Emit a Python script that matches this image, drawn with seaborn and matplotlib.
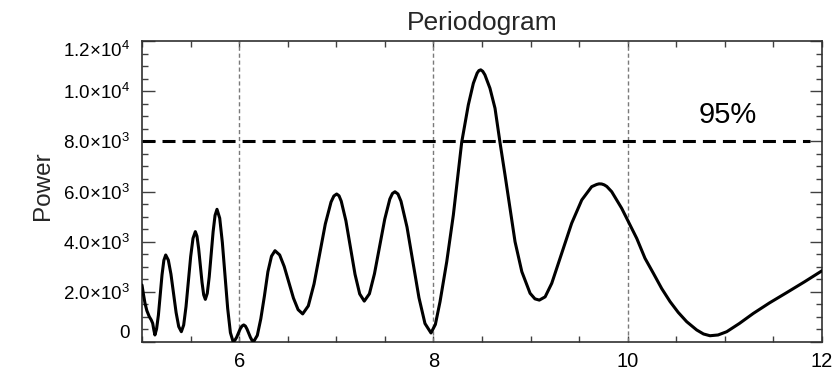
import matplotlib
matplotlib.use("Agg")
import matplotlib.pyplot as plt
import seaborn as sns
from matplotlib.ticker import FixedLocator, MultipleLocator, FuncFormatter

# Periodogram: period (x) versus spectral power (y)
period = [
    5.000, 5.015, 5.031, 5.050, 5.075, 5.095, 5.110, 5.122, 5.133,
    5.150, 5.169, 5.188, 5.206, 5.225, 5.244,
    5.271, 5.298, 5.325, 5.351, 5.378, 5.405,
    5.429, 5.453, 5.477, 5.501, 5.525, 5.549,
    5.566, 5.583, 5.601, 5.618, 5.635, 5.652,
    5.672, 5.692, 5.712, 5.732, 5.752, 5.772,
    5.800, 5.827, 5.855, 5.882, 5.910, 5.937,
    5.955, 5.974, 5.992, 6.010, 6.029, 6.047,
    6.064, 6.081, 6.099, 6.116, 6.133, 6.150,
    6.187, 6.223, 6.260, 6.296, 6.333, 6.369,
    6.417, 6.464, 6.512, 6.559, 6.607, 6.654,
    6.712, 6.771, 6.829, 6.887, 6.946, 6.975, 7.004, 7.028,
    7.051, 7.099, 7.146, 7.193, 7.241, 7.288,
    7.341, 7.393, 7.446, 7.499, 7.551, 7.578, 7.604, 7.635,
    7.666, 7.728, 7.790, 7.851, 7.913, 7.975,
    8.020, 8.068, 8.137, 8.205, 8.291, 8.359, 8.411, 8.450, 8.468,
    8.487, 8.508,
    8.530, 8.582, 8.634, 8.685, 8.737, 8.788, 8.840, 8.910, 8.995,
    9.045, 9.090, 9.150, 9.218, 9.321, 9.423, 9.527, 9.629, 9.680,
    9.705, 9.732, 9.758, 9.785, 9.835, 9.938, 10.006, 10.093, 10.178,
    10.264, 10.350,
    10.436, 10.520, 10.607, 10.710, 10.780, 10.847, 10.930, 11.019,
    11.150, 11.293, 11.460, 11.637, 11.820, 12.000,
]
power = [
    2270, 1900, 1540, 1250, 1010, 880, 745, 480, 280,
    520, 1078, 1875, 2673, 3256, 3470,
    3265, 2705, 1940, 1175, 615, 410,
    677, 1408, 2405, 3403, 4133, 4400,
    4219, 3725, 3050, 2375, 1881, 1700,
    1941, 2598, 3495, 4393, 5049, 5290,
    4937, 3972, 2655, 1337, 373, 20,
    64, 185, 350, 515, 635, 680,
    636, 515, 350, 185, 64, 20,
    263, 925, 1830, 2800, 3420, 3640,
    3471, 3010, 2380, 1750, 1289, 1120,
    1440, 2315, 3510, 4705, 5580, 5820, 5900, 5830,
    5614, 4832, 3765, 2697, 1916, 1630,
    1922, 2720, 3810, 4900, 5698, 5920, 5990, 5900,
    5613, 4582, 3175, 1767, 737, 360,
    700, 1607, 3200, 5063, 7962, 9450, 10315, 10720, 10820,
    10850, 10790,
    10650, 10115, 9318, 7962, 6658, 5330, 4000, 2803, 1942,
    1720, 1670, 1800, 2340, 3536, 4733, 5662, 6192, 6280,
    6305, 6300, 6265, 6200, 5993, 5330, 4800, 4130, 3337,
    2740, 2130,
    1610, 1180, 810, 480, 320, 250, 280, 410,
    740, 1140, 1560, 1970, 2400, 2840,
]

# Significance level and reference periods
threshold_level = 8000
threshold_label = "95%"
reference_periods = [6, 8, 10]

x_major_ticks = [6, 8, 10, 12]
y_major_ticks = [0, 2000, 4000, 6000, 8000, 10000, 12000]
y_tick_labels = ["0", "2.0×10^3", "4.0×10^3", "6.0×10^3", "8.0×10^3",
                 "1.0×10^4", "1.2×10^4"]

sns.set_theme(style="ticks")
plt.rcParams["font.family"] = ["Liberation Sans", "DejaVu Sans"]
plt.rcParams["mathtext.fontset"] = "custom"
plt.rcParams["mathtext.rm"] = "Liberation Sans"
plt.rcParams["mathtext.it"] = "Liberation Sans"
plt.rcParams["mathtext.bf"] = "Liberation Sans"

fig = plt.figure(figsize=(8.34, 3.75), dpi=100)
ax = fig.add_axes([142 / 834, 1 - 342 / 375, 680 / 834, 301 / 375])

for p in reference_periods:
    ax.axvline(p, color="#7a7a7a", lw=1.0, dashes=(3, 2), zorder=1)

ax.hlines(threshold_level, 5, 11.88, color="black", lw=2.2,
          linestyles=(0, (4.25, 2.3)), zorder=2)

sns.lineplot(x=period, y=power, ax=ax, color="black", lw=2.2,
             estimator=None, sort=False, zorder=3)

ax.text(11.03, 9050, threshold_label, fontsize=21, ha="center", va="center",
        color="black")

ax.set_xlim(5, 12)
ax.set_ylim(0, 12000)

ax.xaxis.set_major_locator(FixedLocator(x_major_ticks))
ax.xaxis.set_minor_locator(MultipleLocator(0.5))
ax.yaxis.set_major_locator(FixedLocator(y_major_ticks))
ax.yaxis.set_minor_locator(MultipleLocator(500))


def fmt_power(v, pos):
    lab = y_tick_labels[y_major_ticks.index(int(round(v)))]
    if "^" not in lab:
        return lab
    mant, exp = lab.split("^")
    mant = mant.replace("×", r"{\times}")
    return r"$\mathregular{" + mant + "^{" + exp + "}}$"


ax.yaxis.set_major_formatter(FuncFormatter(fmt_power))

tick_color = "#404040"
ax.tick_params(axis="x", which="both", direction="in", top=True, bottom=True,
               length=4, width=1.0, color=tick_color, labelsize=14.5, pad=7,
               labelcolor="black")
ax.tick_params(axis="y", which="major", direction="in", left=True, right=True,
               length=9, width=1.0, color=tick_color, labelsize=13.5, pad=9,
               labelcolor="black")
ax.tick_params(axis="y", which="minor", direction="in", left=True, right=True,
               length=4.5, width=1.0, color=tick_color)

for s in ax.spines.values():
    s.set_color("#303030")
    s.set_linewidth(1.2)

ax.set_xlabel("")
ax.set_ylabel("Power", fontsize=17.5)
ax.yaxis.set_label_coords(-0.1287, 0.518)
ax.set_title("Periodogram", fontsize=19, pad=8)

# keep the end labels inside the frame height
yticks = ax.yaxis.get_major_ticks()
yticks[0].label1.set_verticalalignment("bottom")
yticks[-1].label1.set_verticalalignment("top")

fig.savefig("out.png", dpi=100)
